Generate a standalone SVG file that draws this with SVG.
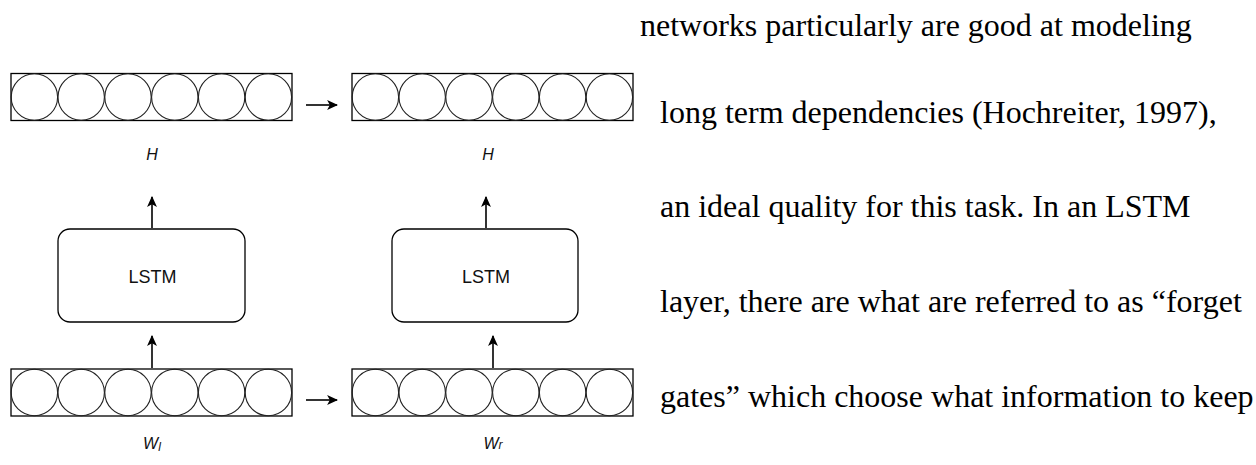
<svg xmlns="http://www.w3.org/2000/svg" width="1256" height="465" viewBox="0 0 1256 465">
  <defs>
    <style>
      .frame { fill: none; stroke: #000; stroke-width: 1.3; }
      .cell { fill: none; stroke: #222; stroke-width: 1.1; }
      .block { fill: #fff; stroke: #000; stroke-width: 1.3; }
      .edge { fill: none; stroke: #000; stroke-width: 1.6; }
      .lbl { font-family: "Liberation Sans", Arial, sans-serif; font-style: italic; font-size: 16px; fill: #111; text-anchor: middle; }
      .blk { font-family: "Liberation Sans", Arial, sans-serif; font-size: 18px; fill: #111; text-anchor: middle; }
      .para { font-family: "Liberation Serif", "Times New Roman", serif; font-size: 32px; fill: #000; }
    </style>
    <marker id="arrow" viewBox="0 0 10 10" refX="9" refY="5" markerWidth="11" markerHeight="11" markerUnits="userSpaceOnUse" orient="auto">
      <path d="M0,0.5 L10,5 L0,9.5 L2.5,5 Z" fill="#000"/>
    </marker>
    <!-- six-cell vector strip -->
    <g id="strip">
      <rect class="frame" x="0" y="0" width="281" height="47"/>
      <circle class="cell" cx="23.4" cy="23.5" r="23.2"/>
      <circle class="cell" cx="70.2" cy="23.5" r="23.2"/>
      <circle class="cell" cx="117" cy="23.5" r="23.2"/>
      <circle class="cell" cx="163.8" cy="23.5" r="23.2"/>
      <circle class="cell" cx="210.6" cy="23.5" r="23.2"/>
      <circle class="cell" cx="257.4" cy="23.5" r="23.2"/>
    </g>
  </defs>

  <rect width="1256" height="465" fill="#fff"/>

  <!-- hidden states -->
  <g id="h-left">
    <use href="#strip" x="11" y="73.5"/>
    <text class="lbl" x="152" y="160">H</text>
  </g>
  <g id="h-right">
    <use href="#strip" x="352" y="73.5"/>
    <text class="lbl" x="488" y="160">H</text>
  </g>

  <!-- LSTM blocks -->
  <g id="lstm-left">
    <rect class="block" x="58" y="229" width="187" height="93" rx="12" ry="12"/>
    <text class="blk" x="152.5" y="283">LSTM</text>
  </g>
  <g id="lstm-right">
    <rect class="block" x="392" y="229" width="186" height="93" rx="12" ry="12"/>
    <text class="blk" x="486" y="283">LSTM</text>
  </g>

  <!-- word inputs -->
  <g id="w-left">
    <use href="#strip" x="11" y="369"/>
    <text class="lbl" x="152" y="449">W<tspan font-size="12" dy="2">l</tspan></text>
  </g>
  <g id="w-right">
    <use href="#strip" x="352" y="369"/>
    <text class="lbl" x="493" y="449">W<tspan font-size="12" dy="0">r</tspan></text>
  </g>

  <!-- connectors -->
  <g id="connectors">
    <line class="edge" x1="306" y1="105" x2="337" y2="105" marker-end="url(#arrow)"/>
    <line class="edge" x1="306" y1="400" x2="337" y2="400" marker-end="url(#arrow)"/>
    <line class="edge" x1="152" y1="228" x2="152" y2="197" marker-end="url(#arrow)"/>
    <line class="edge" x1="486" y1="228" x2="486" y2="197" marker-end="url(#arrow)"/>
    <line class="edge" x1="152" y1="368" x2="152" y2="336" marker-end="url(#arrow)"/>
    <line class="edge" x1="493" y1="368" x2="493" y2="336" marker-end="url(#arrow)"/>
  </g>

  <!-- running text, double spaced -->
  <g id="paragraph">
    <text class="para" x="640" y="36">networks particularly are good at modeling</text>
    <text class="para" x="660" y="123">long term dependencies (Hochreiter, 1997),</text>
    <text class="para" x="660" y="217">an ideal quality for this task. In an LSTM</text>
    <text class="para" x="660" y="312">layer, there are what are referred to as “forget</text>
    <text class="para" x="660" y="407">gates” which choose what information to keep</text>
  </g>
</svg>
